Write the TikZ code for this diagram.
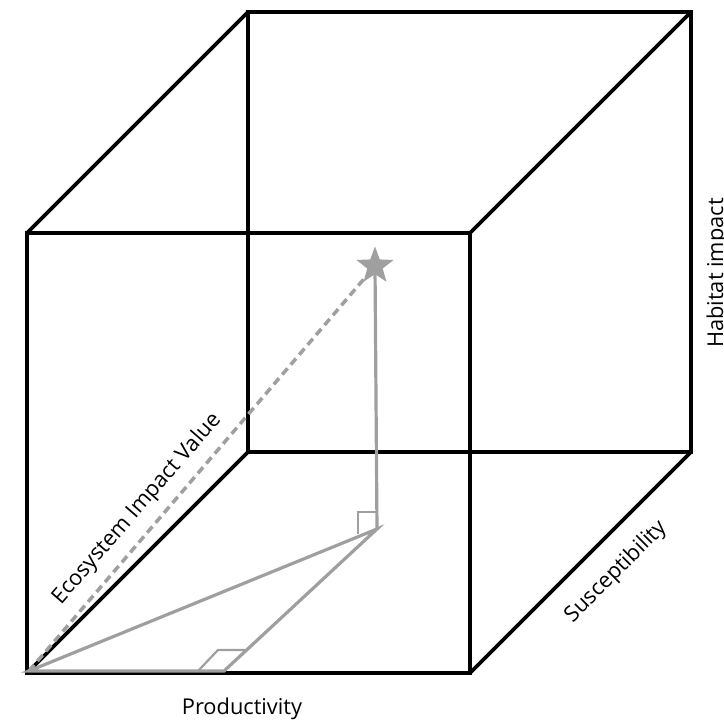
\documentclass[tikz,border=0pt]{standalone}
\usepackage{fontspec}
\setmainfont{Open Sans}
\usetikzlibrary{shapes.geometric}
\begin{document}
\begin{tikzpicture}[x=1pt,y=-1pt,
  edge/.style={line width=3.6pt,black},
  gline/.style={line width=3.2pt,color=gray!75,line cap=butt},
  ramark/.style={line width=2.2pt,color=gray!75},
  lab/.style={font=\fontsize{21.8}{26}\selectfont,inner sep=0pt}]
\useasboundingbox (0,0) rectangle (724,722);
% cube corners
\coordinate (A) at (27,673);
\coordinate (B) at (470,673);
\coordinate (C) at (470,233);
\coordinate (D) at (27,233);
\coordinate (E) at (248,452);
\coordinate (F) at (691,452);
\coordinate (G) at (691,12);
\coordinate (H) at (248,12);
\draw[edge,line join=miter] (A) -- (B) -- (C) -- (D) -- cycle;
\draw[edge,line join=miter] (E) -- (F) -- (G) -- (H) -- cycle;
\draw[edge] (A) -- (E);
\draw[edge] (B) -- (F);
\draw[edge] (C) -- (G);
\draw[edge] (D) -- (H);
% gray construction
\coordinate (O) at (29,671);
\coordinate (P) at (224,671);
\coordinate (Q) at (377,529);
\node[star,star points=5,star point ratio=2.4,minimum size=39pt,fill=gray!75,inner sep=0pt] (S) at (375,266) {};
\draw[gline,line join=miter] (O) -- (P) -- (Q) -- cycle;
\draw[gline] (Q) -- (S.center);
\draw[gline,line width=3.5pt,dash pattern=on 8pt off 5pt] (O) -- (S);
% right angle marks
\coordinate (m1) at (198,671);
\coordinate (m2) at (218,650);
\coordinate (m3) at (245,650);
\draw[ramark] (m1) -- (m2) -- (m3);
\coordinate (n1) at (358,534);
\coordinate (n2) at (358,512);
\coordinate (n3) at (377,512);
\draw[ramark] (n1) -- (n2) -- (n3);
% labels
\node[lab,anchor=base] (prod) at (242,714) {Productivity};
\node[lab,rotate=45] (susc) at (616,572) {Susceptibility};
\node[lab,rotate=90,anchor=base] (hab) at (723,273) {Habitat impact};
\node[lab,rotate=49] (eco) at (137,509) {Ecosystem Impact Value};
\end{tikzpicture}
\end{document}
